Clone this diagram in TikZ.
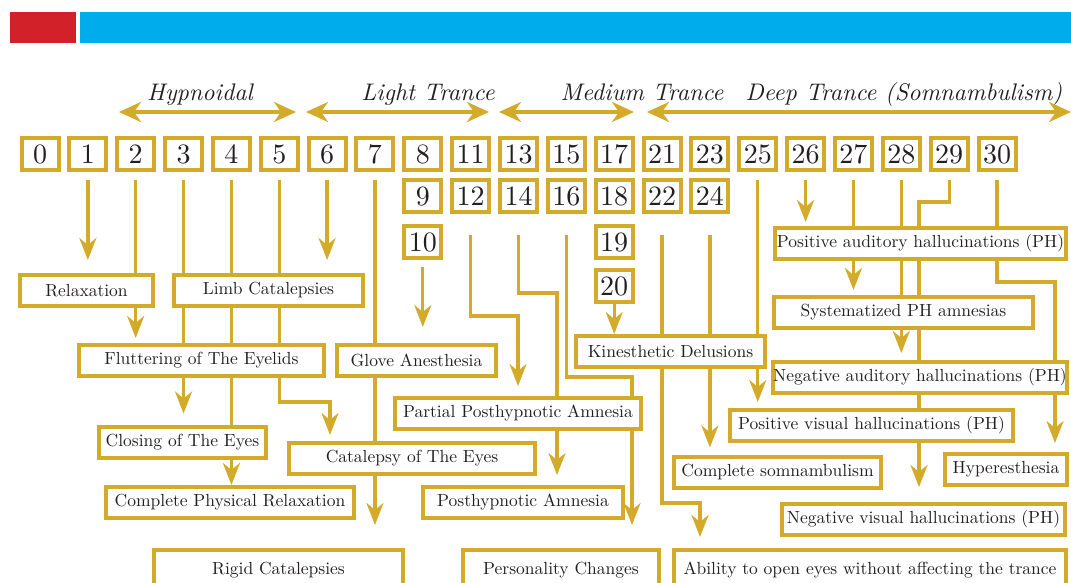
\documentclass[tikz,border=0pt]{standalone}
\usepackage{tikz}
\usetikzlibrary{arrows.meta, positioning, calc}
\DeclareFontFamily{TU}{lmrten}{}
\DeclareFontShape{TU}{lmrten}{m}{n}{<-> "[lmroman10-regular]:+tlig;"}{}
\DeclareFontShape{TU}{lmrten}{m}{it}{<-> "[lmroman10-italic]:+tlig;"}{}
\definecolor{trGold}{RGB}{212,170,42}
\definecolor{trRed}{RGB}{210,33,40}
\definecolor{trBlue}{RGB}{0,172,236}
\definecolor{inkText}{RGB}{35,31,32}
\tikzset{
    num/.style={rectangle, draw=trGold, line width=4pt, fill=white, text=inkText,
                minimum width=37pt, minimum height=32pt, inner sep=0pt,
                font=\fontfamily{lmrten}\fontsize{28}{30}\selectfont},
    effect/.style={rectangle, draw=trGold, line width=4pt, fill=white, text=inkText,
                   minimum width=#1, minimum height=31pt, inner xsep=0pt, inner ysep=0pt,
                   font=\fontfamily{lmrten}\fontsize{17.5}{20}\selectfont},
    effect/.default=100pt,
    stage/.style={font=\fontfamily{lmrten}\fontsize{24}{28}\selectfont\itshape, text=inkText,
                  inner sep=0pt, anchor=base},
    link/.style={draw=trGold, line width=3.3pt},
    flow/.style={link, -{Stealth[length=22pt, width=17pt, inset=7pt]}},
    rangearrow/.style={draw=trGold, line width=3.5pt,
        {Stealth[length=22pt, width=20pt, inset=7pt]}-{Stealth[length=22pt, width=20pt, inset=7pt]}}
}
\begin{document}
\begin{tikzpicture}[x=1pt, y=-1pt, node distance=6pt and 6.85pt]
    \useasboundingbox (0,0) rectangle (1071,582);
    \clip (0,0) rectangle (1071,582);

    % header bars
    \fill[trRed] (10,12) rectangle (76,43);
    \fill[trBlue] (80,12) rectangle (1071,43);

    % stages
    \node[stage] (hypno) at (200,100) {Hypnoidal};
    \node[stage] (light) at (428,100) {Light Trance};
    \node[stage] (medium) at (642,100) {Medium Trance};
    \node[stage] (deep) at (904,100) {Deep Trance (Somnambulism)};
    \coordinate (hypnoL) at (119,112);
    \coordinate (hypnoR) at (296,112);
    \coordinate (lightL) at (306,112);
    \coordinate (lightR) at (489,112);
    \coordinate (mediumL) at (499,112);
    \coordinate (mediumR) at (634,112);
    \coordinate (deepL) at (647,112);
    \coordinate (deepR) at (1071,112);
    \draw[rangearrow] (hypnoL) -- (hypnoR);
    \draw[rangearrow] (lightL) -- (lightR);
    \draw[rangearrow] (mediumL) -- (mediumR);
    \draw[rangearrow] (deepL) -- (deepR);

    % depth scale
    \node[num] (n0) at (40,154) {0};
    \node[num, right=of n0] (n1) {1};
    \node[num, right=of n1] (n2) {2};
    \node[num, right=of n2] (n3) {3};
    \node[num, right=of n3] (n4) {4};
    \node[num, right=of n4] (n5) {5};
    \node[num, right=of n5] (n6) {6};
    \node[num, right=of n6] (n7) {7};
    \node[num, right=of n7] (n8) {8};
    \node[num, right=of n8] (n11) {11};
    \node[num, right=of n11] (n13) {13};
    \node[num, right=of n13] (n15) {15};
    \node[num, right=of n15] (n17) {17};
    \node[num, right=of n17] (n21) {21};
    \node[num, right=of n21] (n23) {23};
    \node[num, right=of n23] (n25) {25};
    \node[num, right=of n25] (n26) {26};
    \node[num, right=of n26] (n27) {27};
    \node[num, right=of n27] (n28) {28};
    \node[num, right=of n28] (n29) {29};
    \node[num, right=of n29] (n30) {30};

    \node[num, below=of n8] (n9) {9};
    \node[num, below=of n11] (n12) {12};
    \node[num, below=of n13] (n14) {14};
    \node[num, below=of n15] (n16) {16};
    \node[num, below=of n17] (n18) {18};
    \node[num, below=of n21] (n22) {22};
    \node[num, below=of n23] (n24) {24};
    \node[num, below=10pt of n9] (n10) {10};
    \node[num, below=10pt of n18] (n19) {19};
    \node[num, below=8pt of n19] (n20) {20};

    % phenomena
    \node[effect=133pt] (relax) at (86.5,290.5) {Relaxation};
    \node[effect=189pt] (limb) at (268.5,290.5) {Limb Catalepsies};
    \node[effect=245pt] (flutter) at (201.5,360.5) {Fluttering of The Eyelids};
    \node[effect=159pt] (glove) at (416.5,360.5) {Glove Anesthesia};
    \node[effect=167pt] (closing) at (182.5,442) {Closing of The Eyes};
    \node[effect=248pt] (physrelax) at (230,502.5) {Complete Physical Relaxation};
    \node[effect=246pt] (cateyes) at (412,458.5) {Catalepsy of The Eyes};
    \node[effect=249pt, minimum height=40pt] (rigid) at (278.5,570) {Rigid Catalepsies};
    \node[effect=246pt] (partial) at (518,413.5) {Partial Posthypnotic Amnesia};
    \node[effect=200pt] (posthyp) at (523,502.5) {Posthypnotic Amnesia};
    \node[effect=196pt, minimum height=40pt] (person) at (561,570) {Personality Changes};
    \node[effect=189pt] (kines) at (670.5,351.5) {Kinesthetic Delusions};
    \node[effect=207pt] (somnam) at (777.5,472) {Complete somnambulism};
    \node[effect=392pt, minimum height=40pt] (ability) at (870,570) {Ability to open eyes without affecting the trance};
    \node[effect=291pt] (posaud) at (920.5,243.5) {Positive auditory hallucinations (PH)};
    \node[effect=259pt] (sysam) at (903.5,312) {Systematized PH amnesias};
    \node[effect=292pt] (negaud) at (920,377) {Negative auditory hallucinations (PH)};
    \node[effect=283pt] (posvis) at (871.5,425.5) {Positive visual hallucinations (PH)};
    \node[effect=122pt] (hyper) at (1006,469) {Hyperesthesia};
    \node[effect=283pt] (negvis) at (923.5,519) {Negative visual hallucinations (PH)};

    \coordinate (amnA) at ([xshift=39pt]partial.north);
    \coordinate (amnB) at ([xshift=114pt]partial.north);
    \coordinate (chain) at ([xshift=-1.5pt]posaud.north);
    \coordinate (hypline) at ([xshift=49pt]hyper.north);

    % hypnoidal / light
    \draw[flow] ([yshift=-8pt]n1.south) -- ([yshift=13pt]n1 |- relax.north);
    \draw[link] ([yshift=-8pt]n2.south) -- (n2 |- relax.north);
    \draw[flow] (n2 |- relax.south) -- ([yshift=5pt]n2 |- flutter.north);
    \draw[link] ([yshift=-8pt]n3.south) -- (n3 |- limb.north);
    \draw[link] (n3 |- limb.south) -- (n3 |- flutter.north);
    \draw[flow] (n3 |- flutter.south) -- ([yshift=11pt]n3 |- closing.north);
    \draw[link] ([yshift=-8pt]n4.south) -- (n4 |- limb.north);
    \draw[link] (n4 |- limb.south) -- (n4 |- flutter.north);
    \draw[link] (n4 |- flutter.south) -- (n4 |- closing.north);
    \draw[flow] (n4 |- closing.south) -- (n4 |- physrelax.north);
    \draw[link] ([yshift=-8pt]n5.south) -- (n5 |- limb.north);
    \draw[link] (n5 |- limb.south) -- (n5 |- flutter.north);
    \draw[flow] (n5 |- flutter.south) -- ++(0,24) -| ([xshift=-82pt, yshift=6pt]cateyes.north);
    \draw[flow] ([yshift=-8pt]n6.south) -- ([yshift=13pt]n6 |- limb.north);
    \draw[link] ([yshift=-8pt]n7.south) -- (n7 |- glove.north);
    \draw[link] (n7 |- glove.south) -- (n7 |- cateyes.north);
    \draw[flow] (n7 |- cateyes.south) -- ([yshift=23pt]n7 |- rigid.north);
    \draw[flow] ([yshift=-7pt]n10.south) -- ([yshift=16pt]n10 |- glove.north);

    % medium
    \draw[flow] ([yshift=-21pt]n12.south) -- ++(0,81) -| ([yshift=10pt]partial.north);
    \draw[link] ([yshift=-21pt]n14.south) -- ++(0,58) -| (amnA);
    \draw[flow] (amnA |- partial.south) -- ([yshift=10pt]amnA |- posthyp.north);
    \draw[link] ([yshift=-21pt]n16.south) -- ++(0,142) -| (amnB);
    \draw[flow] (amnB |- partial.south) -- ([yshift=23pt]amnB |- person.north);
    \draw[flow] (n20.south) -- (n20 |- kines.north);
    \draw[link] ([yshift=-21pt]n22.south) -- (n22 |- kines.north);
    \draw[flow] (n22 |- kines.south) -- ++(0,134) -| ([xshift=-170pt, yshift=11pt]ability.north);
    \draw[link] ([yshift=-21pt]n24.south) -- (n24 |- kines.north);
    \draw[flow] (n24 |- kines.south) -- ([yshift=7pt]n24 |- somnam.north);

    % deep
    \draw[link] ([yshift=-8pt]n25.south) -- (n25 |- kines.north);
    \draw[flow] (n25 |- kines.south) -- ([yshift=6pt]n25 |- posvis.north);
    \draw[flow] ([yshift=-8pt]n26.south) -- ([yshift=4pt]n26 |- posaud.north);
    \draw[link] ([yshift=-8pt]n27.south) -- (n27 |- posaud.north);
    \draw[flow] (n27 |- posaud.south) -- ([yshift=4.5pt]n27 |- sysam.north);
    \draw[link] ([yshift=-8pt]n28.south) -- (n28 |- posaud.north);
    \draw[link] (n28 |- posaud.south) -- (n28 |- sysam.north);
    \draw[flow] (n28 |- sysam.south) -- ([yshift=6.5pt]n28 |- negaud.north);
    \draw[link] ([yshift=-8pt]n29.south) -- ++(0,22) -| (chain);
    \draw[link] (chain |- posaud.south) -- (chain |- sysam.north);
    \draw[link] (chain |- sysam.south) -- (chain |- negaud.north);
    \draw[link] (chain |- negaud.south) -- (chain |- posvis.north);
    \draw[flow] (chain |- posvis.south) -- ([yshift=14.5pt]chain |- negvis.north);
    \draw[link] ([yshift=-8pt]n30.south) -- (n30 |- posaud.north);
    \draw[link] (n30 |- posaud.south) -- ++(0,21) -| (hypline |- negaud.north);
    \draw[flow] (hypline |- negaud.south) -- ([yshift=8.5pt]hypline);
\end{tikzpicture}
\end{document}
